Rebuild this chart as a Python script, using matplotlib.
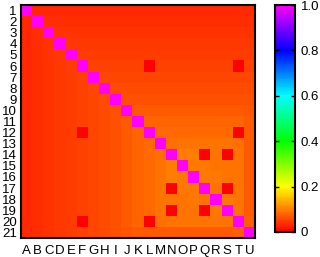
import numpy as np
import matplotlib
matplotlib.use("Agg")
import matplotlib.pyplot as plt
from matplotlib.colors import LinearSegmentedColormap

row_labels = [str(i) for i in range(1, 22)]
col_labels = list("ABCDEFGHIJKLMNOPQRSTU")
cbar_ticks = [0, 0.2, 0.4, 0.6, 0.8, 1.0]
cbar_ticklabels = ["0", "0.2", "0.4", "0.6", "0.8", "1.0"]

# values in per-mille
values = [
    [1000,32,32,32,32,32,32,32,32,32,32,32,32,32,32,32,32,32,32,32,32],
    [32,1000,36,36,36,36,36,36,36,36,36,36,36,36,36,36,36,36,36,36,36],
    [32,36,1000,40,40,40,40,40,40,40,40,40,40,40,40,40,40,40,40,40,40],
    [32,36,40,1000,44,44,44,44,44,44,44,44,44,44,44,44,44,44,44,44,44],
    [32,36,40,44,1000,48,48,48,48,48,48,48,48,48,48,48,48,48,48,48,48],
    [32,36,40,44,48,1000,52,52,52,52,52,0,52,52,52,52,52,52,52,0,52],
    [32,36,40,44,48,52,1000,56,56,56,56,56,56,56,56,56,56,56,56,56,56],
    [32,36,40,44,48,52,56,1000,61,61,61,61,61,61,61,61,61,61,61,61,61],
    [32,36,40,44,48,52,56,61,1000,66,66,66,66,66,66,66,66,66,66,66,66],
    [32,36,40,44,48,52,56,61,66,1000,72,72,72,72,72,72,72,72,72,72,70],
    [32,36,40,44,48,52,56,61,66,72,1000,80,80,80,80,80,80,80,80,80,72],
    [32,36,40,44,48,0,56,61,66,72,80,1000,84,84,84,84,84,84,84,0,72],
    [32,36,40,44,48,52,56,61,66,72,80,84,1000,88,90,92,90,92,90,88,74],
    [32,36,40,44,48,52,56,61,66,72,80,84,88,1000,98,98,0,92,0,90,74],
    [32,36,40,44,48,52,56,61,66,72,80,84,90,98,1000,96,94,92,92,90,74],
    [32,36,40,44,48,52,56,61,66,72,80,84,92,98,96,1000,94,94,92,90,74],
    [32,36,40,44,48,52,56,61,66,72,80,84,90,0,94,94,1000,92,0,90,74],
    [32,36,40,44,48,52,56,61,66,72,80,84,92,92,92,94,92,1000,94,90,74],
    [32,36,40,44,48,52,56,61,66,72,80,84,90,0,92,92,0,94,1000,92,74],
    [32,36,40,44,48,0,56,61,66,72,80,0,88,90,90,90,90,90,92,1000,76],
    [32,36,40,44,48,52,56,61,66,70,72,72,74,74,74,74,74,74,74,76,1000],
]

data = np.array(values, dtype=float) / 1000.0

cmap = LinearSegmentedColormap.from_list(
    "rb",
    [(0.0, "#ff0000"), (0.2, "#ffff00"), (0.4, "#00ff00"),
     (0.6, "#00ffff"), (0.8, "#0000ff"), (1.0, "#ff00ff")],
)

plt.rcParams["font.family"] = ["Liberation Sans", "DejaVu Sans"]

fig = plt.figure(figsize=(3.2, 2.57), dpi=100)
ax = fig.add_axes([21/320, 1-238/257, 234/320, 233/257])
im = ax.imshow(data, cmap=cmap, vmin=0, vmax=1, aspect="auto",
               interpolation="nearest")
ax.set_xticks(range(len(col_labels)))
ax.set_xticklabels(col_labels, fontsize=9.5)
ax.set_yticks(range(len(row_labels)))
ax.set_yticklabels(row_labels, fontsize=9.5)
ax.tick_params(axis="x", length=0, pad=5)
ax.tick_params(axis="y", length=0, pad=3)
for side in ["left", "bottom", "top", "right"]:
    ax.spines[side].set_linewidth(1.5)

cax = fig.add_axes([275/320, 1-232/257, 20/320, 227/257])
cb = fig.colorbar(im, cax=cax, ticks=cbar_ticks)
cb.set_ticklabels(cbar_ticklabels)
cax.tick_params(direction="in", length=3, width=1, labelsize=9.5, left=True, right=True, pad=4)
cb.outline.set_linewidth(1.5)

fig.savefig("out.png", dpi=100)
